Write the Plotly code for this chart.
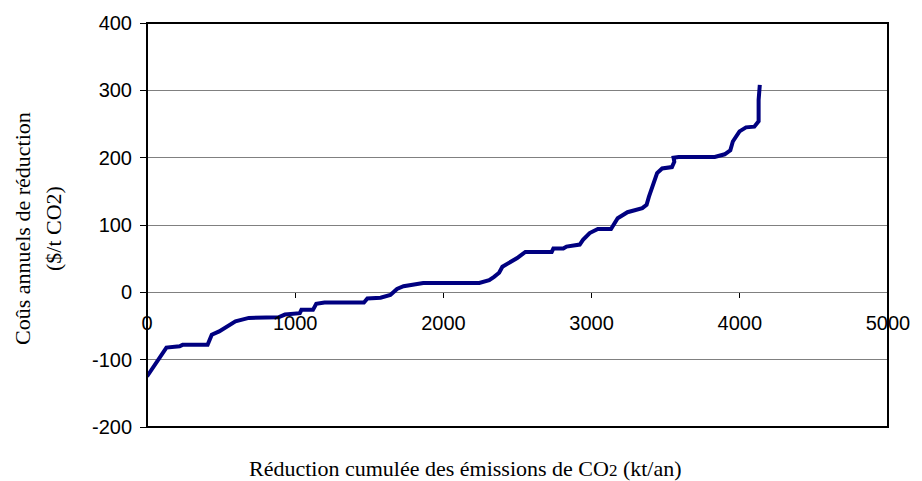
import plotly.graph_objects as go

# Cumulative CO2 reduction (kt/an) and annual abatement cost ($/t CO2)
reduction_kt = [0, 87, 131, 220, 240, 409, 437, 487, 542, 597, 687, 887, 931, 1031, 1042, 1120,
                1142, 1198, 1287, 1464, 1487, 1576, 1642, 1687, 1731, 1820, 1864, 2242, 2309,
                2342, 2376, 2398, 2420, 2453, 2498, 2553, 2731, 2742, 2809, 2831, 2920, 2942,
                2987, 3042, 3131, 3176, 3242, 3342, 3371, 3387, 3420, 3442, 3476, 3542, 3558,
                3553, 3587, 3831, 3898, 3936, 3953, 3998, 4042, 4098, 4127, 4127, 4135]
cost_usd_t = [-125, -98, -82, -80, -78, -78, -63, -58, -51, -43, -38, -37, -33, -31, -26, -26,
              -17, -15, -15, -15, -9, -8, -4, 5, 9, 12, 14, 14, 18,
              23, 29, 38, 41, 44, 51, 60, 60, 65, 65, 68, 71, 78,
              88, 94, 94, 110, 119, 125, 130, 142, 164, 177, 184, 186, 194,
              200, 201, 201, 205, 211, 224, 239, 245, 246, 254, 286, 308]

x_ticks = [0, 1000, 2000, 3000, 4000, 5000]
y_ticks = [-200, -100, 0, 100, 200, 300, 400]

x_title = "Réduction cumulée des émissions de CO<span style='font-size:17px'>2</span> (kt/an)"
y_title_1 = "Coûs annuels de réduction"
y_title_2 = "($/t CO2)"

fig = go.Figure()
fig.add_trace(go.Scatter(
    x=reduction_kt, y=cost_usd_t, mode="lines",
    line=dict(color="#000080", width=4), hoverinfo="skip", showlegend=False,
))

tick_font = dict(family="Liberation Sans, Arial, sans-serif", size=20, color="#000")
title_font = dict(family="Liberation Serif, Times New Roman, serif", size=22, color="#000")

fig.update_layout(
    width=922, height=481,
    margin=dict(l=147, r=25, t=23, b=54),
    paper_bgcolor="white", plot_bgcolor="white",
    hovermode=False,
    xaxis=dict(
        range=[0, 5000], tickvals=x_ticks, ticktext=[str(v) for v in x_ticks],
        anchor="free", position=(0 - y_ticks[0]) / (y_ticks[-1] - y_ticks[0]),
        showgrid=False, zeroline=False, showline=False,
        ticks="outside", ticklen=5, tickwidth=1, tickcolor="#000",
        tickfont=tick_font, ticklabelstandoff=8,
    ),
    yaxis=dict(
        range=[y_ticks[0], y_ticks[-1]], tickvals=y_ticks, ticktext=[str(v) for v in y_ticks],
        showgrid=True, gridcolor="#808080", gridwidth=1,
        zeroline=True, zerolinecolor="#808080", zerolinewidth=1,
        showline=False, ticks="outside", ticklen=6, tickwidth=1, tickcolor="#000",
        tickfont=tick_font, ticklabelstandoff=4,
    ),
    shapes=[dict(type="rect", xref="paper", yref="paper", x0=0, x1=1, y0=0, y1=1,
                 line=dict(color="#000", width=2), layer="above")],
    annotations=[
        dict(text=x_title, xref="paper", yref="paper", x=0.43, y=0, yshift=-27,
             xanchor="center", yanchor="top", showarrow=False, font=title_font),
        dict(text=y_title_1, xref="paper", yref="paper", x=0, y=0.49, xshift=-125,
             xanchor="center", yanchor="middle", textangle=-90, showarrow=False, font=title_font),
        dict(text=y_title_2, xref="paper", yref="paper", x=0, y=0.49, xshift=-94,
             xanchor="center", yanchor="middle", textangle=-90, showarrow=False, font=title_font),
    ],
)

fig.write_html("out.html", config={"displayModeBar": False, "staticPlot": True},
               post_script="document.body.style.margin='0';document.body.style.overflow='hidden';")
